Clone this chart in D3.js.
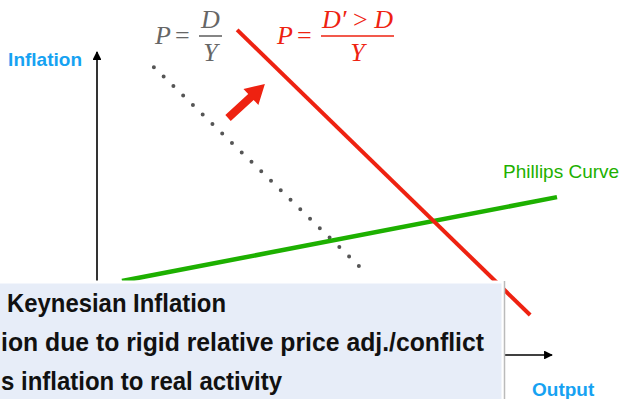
<!DOCTYPE html>
<html>
<head>
<meta charset="utf-8">
<script src="https://cdn.jsdelivr.net/npm/d3@7"></script>
<style>
  body { margin: 0; background: #fff; }
  svg { display: block; }
</style>
</head>
<body>
<svg id="draw"></svg>
<script>
// curves in chart units (output, inflation)
var adOld = [{x: 12.5, y: 95.0}, {x: 58.9, y: 27.4}];      // dotted P = D/Y
var adNew = [{x: 30.8, y: 107.3}, {x: 95.2, y: 13.2}];     // red P = D'/Y
var phillips = [{x: 5.5, y: 24.4}, {x: 101.1, y: 52.1}];   // green Phillips curve
var shift = [{x: 28.8, y: 78.2}, {x: 36.9, y: 89.4}];      // red shift arrow
var boxLines = ["Keynesian Inflation",
  "ion due to rigid relative price adj./conflict",
  "s inflation to real activity"];

var W = 626, H = 399;
var svg = d3.select("#draw").attr("width", W).attr("height", H);

var xScale = d3.scaleLinear().domain([0, 100]).range([97, 552]);
var yScale = d3.scaleLinear().domain([0, 100]).range([355, 52]);

var line = d3.line()
  .x(function(d) { return xScale(d.x); })
  .y(function(d) { return yScale(d.y); });

var defs = svg.append("defs");
defs.append("marker")
  .attr("id", "axhead")
  .attr("viewBox", "0 0 10 10")
  .attr("refX", 9).attr("refY", 5)
  .attr("markerWidth", 5.5).attr("markerHeight", 5.5)
  .attr("orient", "auto")
  .append("path")
  .attr("d", "M0,0 L10,5 L0,10 Z")
  .attr("fill", "#000");

// axes
svg.append("line")
  .attr("x1", xScale(0)).attr("y1", yScale(-15))
  .attr("x2", xScale(0)).attr("y2", yScale(100))
  .attr("stroke", "#000").attr("stroke-width", 1.6)
  .attr("marker-end", "url(#axhead)");
svg.append("line")
  .attr("x1", xScale(0)).attr("y1", yScale(0))
  .attr("x2", xScale(100)).attr("y2", yScale(0))
  .attr("stroke", "#000").attr("stroke-width", 1.6)
  .attr("marker-end", "url(#axhead)");

svg.append("text")
  .attr("x", 82).attr("y", 66)
  .attr("text-anchor", "end")
  .style("font", "bold 19px 'Liberation Sans', Arial, sans-serif")
  .attr("fill", "#16A2F2")
  .text("Inflation");
svg.append("text")
  .attr("x", 532).attr("y", 396)
  .style("font", "bold 19px 'Liberation Sans', Arial, sans-serif")
  .attr("fill", "#16A2F2")
  .text("Output");

// dotted original demand line
svg.append("path")
  .datum(adOld)
  .attr("d", line)
  .attr("fill", "none")
  .attr("stroke", "#555")
  .attr("stroke-width", 4)
  .attr("stroke-linecap", "round")
  .attr("stroke-dasharray", "0 13.6");

// phillips curve
svg.append("path")
  .datum(phillips)
  .attr("d", line)
  .attr("fill", "none")
  .attr("stroke", "#1DB000")
  .attr("stroke-width", 4.5);

svg.append("text")
  .attr("x", 503).attr("y", 178)
  .style("font", "19px 'Liberation Sans', Arial, sans-serif")
  .attr("fill", "#1DB000")
  .text("Phillips Curve");

// shifted demand line
svg.append("path")
  .datum(adNew)
  .attr("d", line)
  .attr("fill", "none")
  .attr("stroke", "#EE2211")
  .attr("stroke-width", 4);

// fat shift arrow
(function() {
  var x0 = xScale(shift[0].x), y0 = yScale(shift[0].y);
  var x1 = xScale(shift[1].x), y1 = yScale(shift[1].y);
  var dx = x1 - x0, dy = y1 - y0, len = Math.sqrt(dx * dx + dy * dy);
  var ux = dx / len, uy = dy / len, nx = -uy, ny = ux;
  var headLen = 19, shaftW = 4, headW = 11;
  var bx = x1 - ux * headLen, by = y1 - uy * headLen;
  var pts = [
    [x0 + nx * shaftW, y0 + ny * shaftW],
    [bx + nx * shaftW, by + ny * shaftW],
    [bx + nx * headW, by + ny * headW],
    [x1, y1],
    [bx - nx * headW, by - ny * headW],
    [bx - nx * shaftW, by - ny * shaftW],
    [x0 - nx * shaftW, y0 - ny * shaftW]
  ];
  svg.append("path")
    .attr("d", "M" + pts.map(function(p) { return p.join(","); }).join("L") + "Z")
    .attr("fill", "#EE2211");
})();

// formulas
function fraction(g, xP, num, den, xBar0, xBar1, color) {
  var f = g.append("g").attr("fill", color)
    .style("font-family", "'Liberation Serif', 'Times New Roman', serif")
    .style("font-size", "26px");
  f.append("text").attr("x", xP).attr("y", 44)
    .style("font-style", "italic").text("P");
  f.append("text").attr("x", xP + 20).attr("y", 44).text("=");
  var cx = (xBar0 + xBar1) / 2;
  var t = f.append("text").attr("x", cx).attr("y", 28)
    .attr("text-anchor", "middle")
    .style("font-style", "italic");
  num.forEach(function(s) {
    t.append("tspan").style("font-style", s.upright ? "normal" : "italic").text(s.t);
  });
  f.append("line")
    .attr("x1", xBar0).attr("x2", xBar1)
    .attr("y1", 36).attr("y2", 36)
    .attr("stroke", color).attr("stroke-width", 1.6);
  f.append("text").attr("x", cx).attr("y", 61)
    .attr("text-anchor", "middle")
    .style("font-style", "italic").text(den);
}
fraction(svg, 155, [{t: "D"}], "Y", 199, 222, "#666");
fraction(svg, 277, [{t: "D\u2032"}, {t: " > ", upright: true}, {t: "D"}], "Y", 321, 394, "#EE2211");

// callout box on top
var box = svg.append("g");
box.append("rect")
  .attr("x", -4).attr("y", 282)
  .attr("width", 507).attr("height", 130)
  .attr("fill", "#E7EDF8")
  .attr("stroke", "#fff").attr("stroke-width", 3);
box.append("line")
  .attr("x1", 504.5).attr("x2", 504.5)
  .attr("y1", 281).attr("y2", H)
  .attr("stroke", "#bbb").attr("stroke-width", 1.5);

// horizontal span of each line as seen in the picture
var spans = [[7, 226], [1, 484], [1, 282]];
box.selectAll("text.box")
  .data(boxLines)
  .enter().append("text")
  .attr("class", "box")
  .attr("x", function(d, i) { return spans[i][0]; })
  .attr("y", function(d, i) { return 312 + i * 39; })
  .attr("textLength", function(d, i) { return spans[i][1] - spans[i][0]; })
  .attr("lengthAdjust", "spacingAndGlyphs")
  .style("font", "bold 25px 'Liberation Sans', Arial, sans-serif")
  .attr("fill", "#111")
  .text(function(d) { return d; });
</script>
</body>
</html>
